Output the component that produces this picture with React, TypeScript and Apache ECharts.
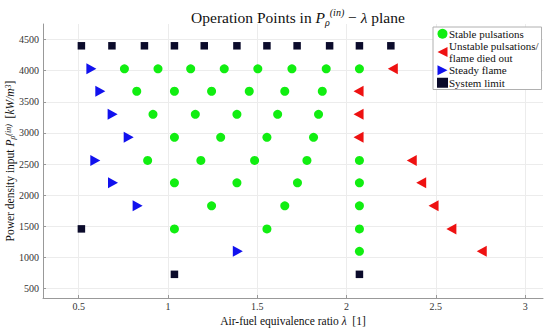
import React, { useEffect, useRef } from "react";
import * as echarts from "echarts";

// Operation points: [λ, P] pairs
const stablePoints: [number, number][] = [
  [0.756, 4030], [0.944, 4030], [1.127, 4030], [1.315, 4030], [1.503, 4030], [1.694, 4030], [1.886, 4030], [2.072, 4030],
  [0.825, 3670], [1.036, 3670], [1.244, 3670], [1.455, 3670], [1.654, 3670], [1.864, 3670],
  [0.916, 3300], [1.153, 3300], [1.386, 3300], [1.614, 3300], [1.843, 3300],
  [1.036, 2930], [1.295, 2930], [1.554, 2930], [1.815, 2930],
  [0.886, 2560], [1.184, 2560], [1.485, 2560], [1.778, 2560], [2.072, 2560],
  [1.036, 2200], [1.386, 2200], [1.725, 2200], [2.072, 2200],
  [1.244, 1830], [1.654, 1830], [2.072, 1830],
  [1.036, 1460], [1.554, 1460], [2.072, 1460],
  [2.072, 1100],
];
const unstablePoints: [number, number][] = [
  [2.259, 4030], [2.067, 3670], [2.067, 3300], [2.067, 2930], [2.365, 2560],
  [2.418, 2200], [2.487, 1830], [2.587, 1460], [2.757, 1100],
];
const steadyPoints: [number, number][] = [
  [0.571, 4030], [0.621, 3670], [0.69, 3300], [0.78, 2930], [0.593, 2560],
  [0.692, 2200], [0.83, 1830], [1.391, 1100],
];
const limitPoints: [number, number][] = [
  [0.515, 4400], [0.686, 4400], [0.868, 4400], [1.036, 4400], [1.203, 4400], [1.386, 4400],
  [1.554, 4400], [1.723, 4400], [1.905, 4400], [2.072, 4400], [2.248, 4400],
  [0.515, 1460], [1.036, 730], [2.072, 730],
];
const seriesNames = ["Stable pulsations", "Unstable pulsations/\nflame died out", "Steady flame", "System limit"];

const FONT = "'Liberation Serif', 'DejaVu Serif', serif";
const rich = {
  i: { fontStyle: "italic" as const, fontFamily: FONT, fontSize: 11.5, color: "#111" },
  sup: { fontSize: 8, verticalAlign: "top" as const, lineHeight: 8, fontStyle: "italic" as const, fontFamily: FONT, color: "#111" },
  sub: { fontSize: 8, verticalAlign: "bottom" as const, lineHeight: 8, fontStyle: "italic" as const, fontFamily: FONT, color: "#111" },
};

export default function App() {
  const ref = useRef<HTMLDivElement>(null);
  useEffect(() => {
    if (!ref.current) return;
    const chart = echarts.init(ref.current, null, { renderer: "svg" });
    chart.setOption({
      animation: false,
      backgroundColor: "#fff",
      textStyle: { fontFamily: FONT },
      title: {
        text: "Operation Points in {i|P}{sub|ρ}{sup|(in)} − {i|λ} plane",
        left: 293,
        textAlign: "center",
        top: 2,
        textStyle: {
          fontFamily: FONT,
          fontWeight: "normal",
          fontSize: 15.5,
          color: "#111",
          lineHeight: 20,
          rich: {
            i: { fontStyle: "italic", fontFamily: FONT, fontSize: 15.5, color: "#111" },
            sup: { fontSize: 10, verticalAlign: "top", lineHeight: 10, fontStyle: "italic", fontFamily: FONT, color: "#111" },
            sub: { fontSize: 10, verticalAlign: "bottom", lineHeight: 10, fontStyle: "italic", fontFamily: FONT, color: "#111" },
          },
        },
      },
      legend: {
        orient: "vertical",
        left: 433,
        top: 27,
        padding: [1, 3, 1, 4],
        itemGap: 1,
        itemWidth: 11,
        itemHeight: 10,
        backgroundColor: "#fff",
        borderColor: "#b0b0b0",
        borderWidth: 1,
        data: seriesNames,
        textStyle: { fontFamily: FONT, fontSize: 11, color: "#111", lineHeight: 11.5, padding: [0, 0, 0, -4] },
      },
      grid: { left: 43, right: 7, top: 24, bottom: 32, outerBoundsMode: "none", containLabel: false },
      xAxis: {
        type: "value",
        min: 0.3,
        max: 3.1,
        minInterval: 0.5,
        maxInterval: 0.5,
        name: "Air-fuel equivalence ratio {i|λ}  [1]",
        nameLocation: "middle",
        nameGap: 17,
        nameMoveOverlap: false,
        nameTextStyle: { fontFamily: FONT, fontSize: 11.5, color: "#111", rich },
        axisLine: { lineStyle: { color: "#999" } },
        axisTick: { inside: true, length: 3, lineStyle: { color: "#999" } },
        axisLabel: {
          showMinLabel: false,
          showMaxLabel: false,
          fontSize: 10,
          color: "#333",
          margin: 3,
          fontFamily: FONT,
          formatter: (v: number) => String(v),
        },
        splitLine: { show: true, showMinLine: false, showMaxLine: false, lineStyle: { color: "#ececec" } },
      },
      yAxis: {
        type: "value",
        min: 350,
        max: 4750,
        minInterval: 500,
        maxInterval: 500,
        name: "Power density input {i|P}{sub|ρ}{sup|(in)}  [{i|kW/m}{sup|3}]",
        nameLocation: "middle",
        nameGap: 27,
        nameMoveOverlap: false,
        nameTextStyle: { fontFamily: FONT, fontSize: 11.5, color: "#111", rich },
        axisLine: { show: true, lineStyle: { color: "#999" } },
        axisTick: { show: true, inside: true, length: 3, lineStyle: { color: "#999" } },
        axisLabel: {
          showMinLabel: false,
          showMaxLabel: false,
          fontSize: 10,
          color: "#333",
          margin: 4,
          fontFamily: FONT,
          formatter: (v: number) => String(v),
        },
        splitLine: { show: true, showMinLine: false, showMaxLine: false, lineStyle: { color: "#ececec" } },
      },
      series: [
        {
          name: seriesNames[0],
          type: "scatter",
          data: stablePoints,
          symbol: "circle",
          symbolSize: 9,
          itemStyle: { color: "#11ee11", opacity: 1 },
        },
        {
          name: seriesNames[1],
          type: "scatter",
          data: unstablePoints,
          symbol: "path://M10,0 L0,5 L10,10 Z",
          symbolSize: [10, 11],
          itemStyle: { color: "#ee1111", opacity: 1 },
        },
        {
          name: seriesNames[2],
          type: "scatter",
          data: steadyPoints,
          symbol: "path://M0,0 L10,5 L0,10 Z",
          symbolSize: [10, 11],
          itemStyle: { color: "#1111ee", opacity: 1 },
        },
        {
          name: seriesNames[3],
          type: "scatter",
          data: limitPoints,
          symbol: "rect",
          symbolSize: 7.5,
          itemStyle: { color: "#0b0b2b", opacity: 1 },
        },
      ],
    });
    return () => chart.dispose();
  }, []);
  return <div ref={ref} style={{ width: 550, height: 330, position: "absolute", left: 0, top: 0 }} />;
}
